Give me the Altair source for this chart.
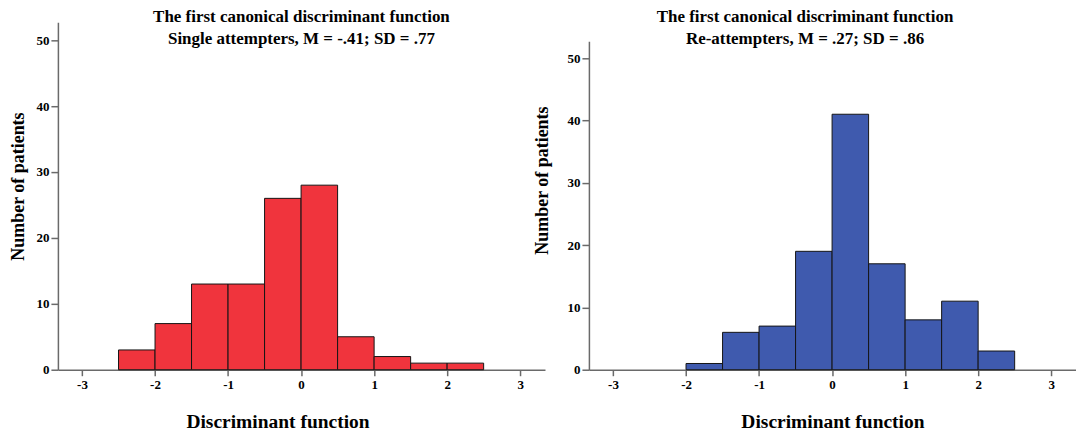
import altair as alt
import pandas as pd

# Histogram bins (discriminant function score) and counts
single_bin_start = [-2.5, -2.0, -1.5, -1.0, -0.5, 0.0, 0.5, 1.0, 1.5, 2.0]
single_bin_end = [-2.0, -1.5, -1.0, -0.5, 0.0, 0.5, 1.0, 1.5, 2.0, 2.5]
single_counts = [3, 7, 13, 13, 26, 28, 5, 2, 1, 1]

re_bin_start = [-2.0, -1.5, -1.0, -0.5, 0.0, 0.5, 1.0, 1.5, 2.0]
re_bin_end = [-1.5, -1.0, -0.5, 0.0, 0.5, 1.0, 1.5, 2.0, 2.5]
re_counts = [1, 6, 7, 19, 41, 17, 8, 11, 3]

x_ticks = [-3, -2, -1, 0, 1, 2, 3]
y_ticks = [0, 10, 20, 30, 40, 50]

single_title = ["The first canonical discriminant function",
                "Single attempters, M = -.41; SD = .77"]
re_title = ["The first canonical discriminant function",
            "Re-attempters, M = .27; SD = .86"]

x_label = "Discriminant function"
y_label = "Number of patients"

SERIF = "Liberation Serif"


def title_params(lines):
    return alt.TitleParams(
        text=lines,
        font=SERIF,
        fontSize=17,
        fontWeight="bold",
        lineHeight=22,
        offset=-26,
        anchor="middle",
        color="black",
    )


def panel(starts, ends, counts, color, height, y_title_pad, y_title_y,
          x_title_x=None):
    df = pd.DataFrame({"start": starts, "end": ends, "count": counts})
    x_axis_kw = dict(
        values=x_ticks,
        title=x_label,
        labelExpr="toString(datum.value)",
        titleFontSize=19.5,
        titlePadding=21,
        tickSize=6,
        labelPadding=3,
        labelFlush=False,
    )
    if x_title_x is not None:
        x_axis_kw["titleX"] = x_title_x
    return (
        alt.Chart(df)
        .mark_bar(color=color, stroke="#151515", strokeWidth=1)
        .encode(
            x=alt.X(
                "start:Q",
                scale=alt.Scale(domain=[-3.33, 3.34], nice=False, zero=False),
                axis=alt.Axis(**x_axis_kw),
            ),
            x2="end:Q",
            y=alt.Y(
                "count:Q",
                scale=alt.Scale(domain=[0, 52.7], nice=False),
                axis=alt.Axis(
                    values=y_ticks,
                    title=y_label,
                    labelExpr="toString(datum.value)",
                    titleFontSize=18,
                    titlePadding=y_title_pad,
                    titleY=y_title_y,
                    tickSize=7,
                    labelPadding=2,
                ),
            ),
            y2=alt.datum(0),
        )
        .properties(width=488, height=height)
    )


left = panel(single_bin_start, single_bin_end, single_counts, "#F0343D",
             348, 8, 164, 220).properties(title=title_params(single_title))

right_plot = panel(re_bin_start, re_bin_end, re_counts, "#3F5AAE",
                   329, 15, 139)

# invisible spacer that lowers the right-hand plot below its title
spacer = (
    alt.Chart(pd.DataFrame({"s": [0]}))
    .mark_rect(opacity=0)
    .encode(x=alt.value(0), x2=alt.value(1), y=alt.value(0), y2=alt.value(1))
    .properties(width=1, height=19)
)

right = alt.vconcat(spacer, right_plot, spacing=0).properties(
    title=title_params(re_title)
)

chart = (
    alt.hconcat(left, right, spacing=-11)
    .properties(padding={"left": 2, "top": 0, "right": 0, "bottom": 0})
    .configure_view(stroke=None)
    .configure_axis(
        grid=False,
        domainColor="#6a6a6a",
        domainWidth=1.5,
        tickColor="#6a6a6a",
        tickWidth=1.5,
        labelFont=SERIF,
        labelFontWeight="bold",
        labelFontSize=13,
        labelColor="black",
        titleFont=SERIF,
        titleFontWeight="bold",
        titleColor="black",
    )
)

chart.save("out.html", embed_options={"renderer": "svg", "actions": False})
